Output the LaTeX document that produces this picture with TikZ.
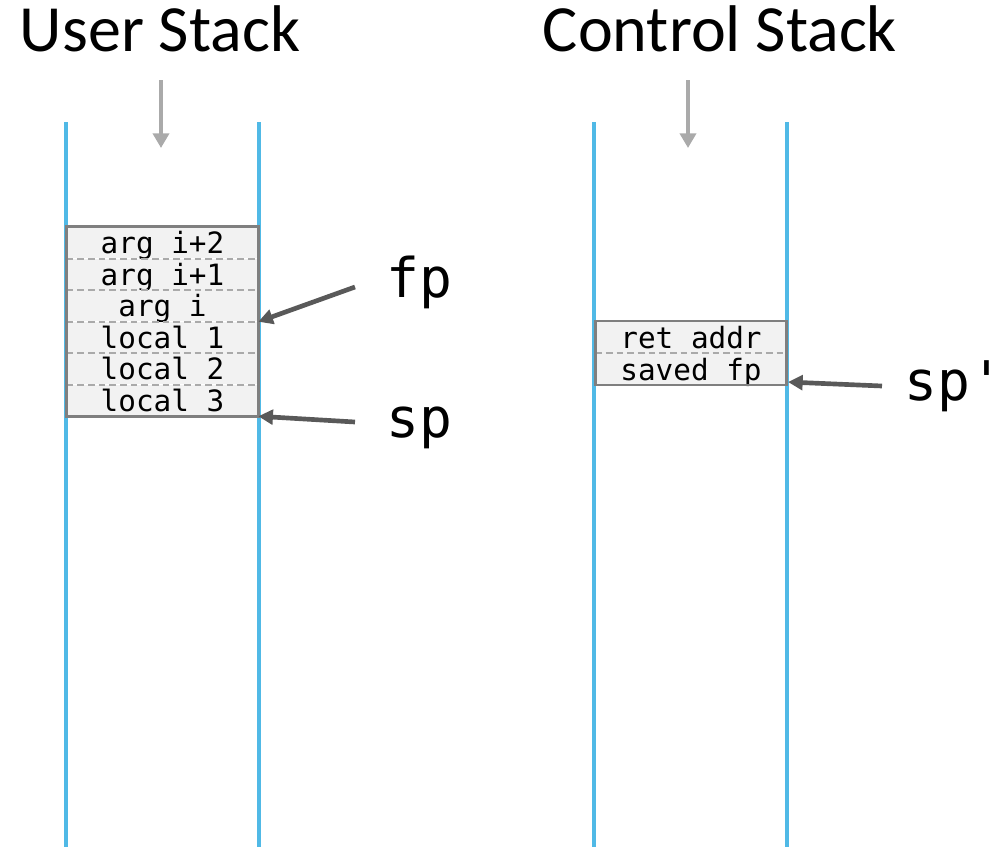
\documentclass[tikz,border=0pt]{standalone}
\usepackage{fontspec}
\setmainfont{Carlito}
\newfontfamily\codefont{DejaVu Sans Mono}
\usetikzlibrary{arrows.meta}
\definecolor{stackblue}{RGB}{80,185,230}
\definecolor{cellgray}{RGB}{242,242,242}
\definecolor{framegray}{RGB}{127,127,127}
\definecolor{linegray}{RGB}{170,170,170}
\definecolor{ptrgray}{RGB}{89,89,89}
\definecolor{growgray}{RGB}{170,170,170}

\begin{document}
\begin{tikzpicture}[x=0.75pt,y=-0.75pt,
  wall/.style={draw=stackblue,line width=3pt},
  growarrow/.style={draw=growgray,line width=3pt,-{Triangle[length=11pt,width=12pt]}},
  cell/.style={fill=cellgray,minimum width=143.25pt,minimum height=23.6pt,inner sep=0pt,
    text height=16.5pt,text depth=0pt,font=\codefont\fontsize{22}{22}\selectfont},
  rowsep/.style={draw=linegray,line width=1.5pt,dash pattern=on 5pt off 3pt},
  framebox/.style={draw=framegray,line width=2.2pt},
  ptr/.style={draw=ptrgray,line width=3.5pt,-{Triangle[length=11pt,width=11pt]}},
  ptrlabel/.style={anchor=base west,inner sep=0pt,font=\codefont\fontsize{41}{41}\selectfont},
  stacktitle/.style={inner sep=0pt,anchor=base,font=\fontsize{49.5}{49.5}\selectfont}]
\path[use as bounding box] (0,0) rectangle (1007,847);

% titles
\node[stacktitle] (usertitle) at (160,51) {User Stack};
\node[stacktitle] (ctrltitle) at (720,51) {Control Stack};

% stack walls
\draw[wall] (66,122) -- (66,847);
\draw[wall] (259,122) -- (259,847);
\draw[wall] (594,122) -- (594,847);
\draw[wall] (787,122) -- (787,847);

% growth direction
\coordinate (ug1) at (161,80);
\coordinate (ug2) at (161,148);
\coordinate (cg1) at (688,80);
\coordinate (cg2) at (688,148);
\path[growarrow] (ug1) -- (ug2);
\path[growarrow] (cg1) -- (cg2);

% user stack frame
\foreach \txt [count=\i] in {arg i+2,arg i+1,arg i,local 1,local 2,local 3}
  \node[cell] (u\i) at (162.5,{227+15.75+(\i-1)*31.5}) {\txt};
\foreach \i in {1,...,6}
  \draw[rowsep] (u\i.south west) -- (u\i.south east);
\draw[framebox] (u1.north west) rectangle (u6.south east);

% control stack frame
\node[cell] (c1) at (691,337) {ret addr};
\node[cell] (c2) at (691,369) {saved fp};
\draw[rowsep] (c1.south west) -- (c1.south east);
\draw[rowsep] (c2.south west) -- (c2.south east);
\draw[framebox] (c1.north west) rectangle (c2.south east);

% pointers
\node[ptrlabel] (fp) at (386,297) {fp};
\node[ptrlabel] (sp) at (386,437) {sp};
\node[ptrlabel] (spc) at (904,400) {sp'};
\coordinate (fptail) at (355,287);
\coordinate (sptail) at (355,422);
\coordinate (spctail) at (882,386);
\coordinate (spctip) at (788,382);
\path[ptr] (fptail) -- (u3.south east);
\path[ptr] (sptail) -- (u6.south east);
\path[ptr] (spctail) -- (spctip);
\end{tikzpicture}
\end{document}
